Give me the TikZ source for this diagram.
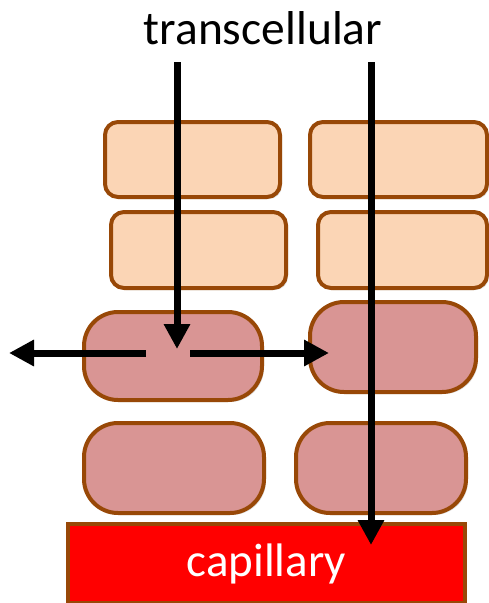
\documentclass[tikz,border=0pt]{standalone}
\usepackage{fontspec}
\setmainfont{Carlito}
\usetikzlibrary{arrows.meta,shadows}
\definecolor{cellbrown}{HTML}{984807}
\definecolor{lightcell}{HTML}{FBD5B5}
\definecolor{pinkcell}{HTML}{D99594}
\tikzset{
  lcell/.style={draw=cellbrown, line width=4pt, fill=lightcell, rounded corners=13pt, inner sep=0pt,
    drop shadow={shadow xshift=2pt, shadow yshift=-2pt, opacity=0.25}},
  pcell/.style={draw=cellbrown, line width=4pt, fill=pinkcell, rounded corners=34pt, inner sep=0pt,
    drop shadow={shadow xshift=2pt, shadow yshift=-2pt, opacity=0.25}},
  flow/.style={line width=7pt, -{Triangle[length=25pt, width=25pt]}}
}
\begin{document}
\begin{tikzpicture}[x=1pt,y=-1pt]
\useasboundingbox (0,0) rectangle (488,603);
% cells
\node[lcell, minimum width=175pt, minimum height=75pt] (l1) at (192.5,159.5) {};
\node[lcell, minimum width=177pt, minimum height=75pt] (r1) at (398.5,159.5) {};
\node[lcell, minimum width=175pt, minimum height=76pt] (l2) at (198.5,250) {};
\node[lcell, minimum width=169pt, minimum height=76pt] (r2) at (402.5,250) {};
\node[pcell, minimum width=178pt, minimum height=88pt] (l3) at (173,356) {};
\node[pcell, minimum width=166pt, minimum height=90pt] (r3) at (393,347) {};
\node[pcell, minimum width=180pt, minimum height=90pt] (l4) at (174,468) {};
\node[pcell, minimum width=170pt, minimum height=90pt] (r4) at (381,468) {};
% capillary
\node[draw=cellbrown, line width=4pt, fill=red, minimum width=397pt, minimum height=79pt, inner sep=0pt,
  text=white, font=\fontsize{47}{50}\selectfont] (cap) at (266.5,563.5) {capillary};
% title
\node[font=\fontsize{47.5}{50}\selectfont, inner sep=0pt] (title) at (263,28) {transcellular};
% arrow coordinates
\coordinate (a1s) at (177,62);
\coordinate (a1e) at (177,349);
\coordinate (a2s) at (371,62);
\coordinate (a2e) at (371,545);
\coordinate (ls) at (146,353);
\coordinate (le) at (9,353);
\coordinate (rs) at (190,353);
\coordinate (re) at (329,353);
\draw[flow] (a1s) -- (a1e);
\draw[flow] (a2s) -- (a2e);
\draw[flow] (ls) -- (le);
\draw[flow] (rs) -- (re);
\end{tikzpicture}
\end{document}
